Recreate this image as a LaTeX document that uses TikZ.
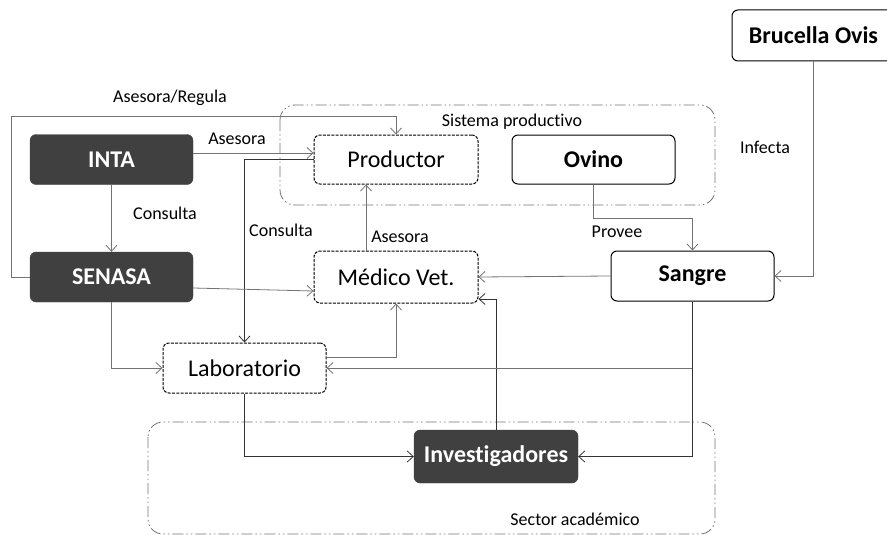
\documentclass[tikz,border=0pt]{standalone}
\usepackage{fontspec}
\setmainfont{Carlito}[Ligatures={NoCommon,NoContextual,NoRequired,NoRare}]
\usetikzlibrary{positioning, arrows.meta, shapes}

\begin{document}
\begin{tikzpicture}[
        x=1pt, y=-1pt,
        box/.style={draw, rounded corners=6pt, minimum width=163pt, minimum height=50pt, font=\fontsize{24}{28}\selectfont, inner sep=0pt},
        darkbox/.style={box, draw=black!75, fill=black!75, text=white, font=\fontsize{24}{28}\selectfont\bfseries},
        solidbox/.style={box, line width=1pt, font=\fontsize{24}{28}\selectfont\bfseries},
        dashbox/.style={box, line width=1pt, dash pattern=on 3pt off 1.3pt},
        group/.style={draw=black!55, line width=0.8pt, rounded corners=15pt, dash pattern=on 11pt off 3pt on 1.5pt off 3pt on 1.5pt off 3pt},
        lbl/.style={font=\fontsize{18}{20}\selectfont, inner sep=0pt},
        arrow/.style={draw=black!55, line width=0.8pt, -{Straight Barb[length=6pt, width=11pt]}},
        darkarrow/.style={arrow, draw=black!80}
    ]
    \useasboundingbox (0,0) rectangle (887,535);

    % Bereiche
    \draw[group] (280,105) rectangle (715,205);
    \draw[group] (148,422) rectangle (715,534);
    \node (sistema) [lbl] at (512,122) {Sistema productivo};
    \node (sector) [lbl] at (575,519) {Sector académico};

    % Knoten
    \node (inta) [darkbox] at (111.5,159.5) {INTA};
    \node (senasa) [darkbox] at (111.5,277) {SENASA};
    \node (productor) [dashbox, minimum width=164pt, minimum height=49pt] at (396,159.5) {Productor};
    \node (medico) [dashbox, minimum width=164pt, minimum height=52pt] at (396,277) {Médico Vet.};
    \node (ovino) [solidbox, minimum height=49pt] at (593.5,159.5) {Ovino};
    \node (sangre) [solidbox] at (692.5,276) {Sangre};
    \node (brucella) [solidbox, minimum height=51pt] at (813.5,35.5) {Brucella Ovis};
    \node (lab) [dashbox] at (244.5,368) {Laboratorio};
    \node (inv) [darkbox, minimum width=164pt, minimum height=53pt] at (496,456.5) {Investigadores};

    % Verbindungen
    \draw[arrow] ([yshift=6.5pt]inta.east) -- ([yshift=6.5pt]productor.west);
    \node (l-asesora1) [lbl] at (237,139) {Asesora};
    \draw[darkarrow] (productor.west) -| (lab.north);
    \node (l-consulta2) [lbl] at (281,230) {Consulta};
    \draw[arrow] (inta.south) -- (senasa.north);
    \node (l-consulta1) [lbl] at (165,213) {Consulta};
    \draw[arrow] (senasa.west) -- ++(-18,0) |- ([yshift=18pt]productor.north) -- (productor.north);
    \node (l-regula) [lbl] at (170,98) {Asesora/Regula};
    \draw[arrow] ([yshift=-11pt]senasa.east) -- ([yshift=-14pt]medico.west);
    \draw[arrow] (senasa.south) |- (lab.west);
    \draw[arrow] ([xshift=-30pt]medico.north) -- ([xshift=-30pt]productor.south);
    \node (l-asesora2) [lbl] at (400,237) {Asesora};
    \draw[arrow] (sangre.west) -- (medico.east);
    \draw[darkarrow] (inv.north) |- ([yshift=-22pt]medico.east);
    \draw[arrow] ([yshift=11pt]lab.east) -| (medico.south);
    \draw[arrow] (sangre.south) |- (lab.east);
    \draw[darkarrow] (sangre.south) |- (inv.east);
    \draw[darkarrow] (lab.south) |- (inv.west);
    \draw[arrow] (ovino.south) -- ++(0,34) -| (sangre.north);
    \node (l-provee) [lbl] at (617,232) {Provee};
    \draw[arrow] (brucella.south) |- (sangre.east);
    \node (l-infecta) [lbl] at (765,147) {Infecta};

\end{tikzpicture}
\end{document}
